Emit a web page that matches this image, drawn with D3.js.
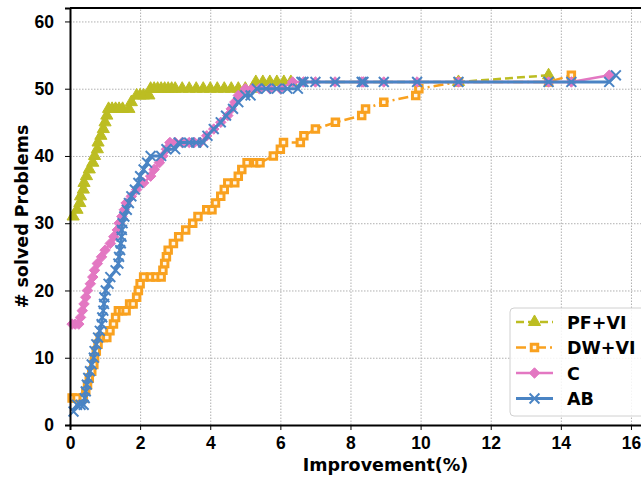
<!DOCTYPE html>
<html>
<head>
<meta charset="utf-8">
<style>
    body { margin: 0; background: #fff; }
    svg { display: block; font-family: 'DejaVu Sans', sans-serif; }
    .grid line { stroke: #b0b0b0; stroke-dasharray: 1.5,1.5; stroke-width: 1; }
    .grid .domain { display: none; }
    .axis text { font-size: 17.5px; font-weight: bold; fill: #000; }
    .axis line, .axis path { stroke: #000; }
    .label { font-size: 17.5px; font-weight: bold; }
    .legend text { font-size: 17.5px; font-weight: bold; }
</style>
</head>
<body>
<svg width="641" height="477"></svg>

<script src="https://d3js.org/d3.v7.min.js"></script>
<script>
    // series names and values: [improvement %, # solved]
    let seriesNames = ["PF+VI", "DW+VI", "C", "AB"];

    let pfvi = [[0.09,31],[0.2,32],[0.28,33],[0.3,34],[0.38,35],[0.4,36],[0.47,37],[0.55,38],[0.65,39],[0.7,40],
        [0.78,41],[0.8,42],[0.88,43],[0.95,44],[1.0,45],[1.05,46],[1.1,47],[1.2,47],[1.3,47],[1.4,47],[1.5,47],
        [1.68,47],[1.75,48],[1.9,49],[2.0,49],[2.1,49],[2.25,49],[2.3,50],[2.4,50],[2.5,50],[2.6,50],[2.7,50],
        [2.8,50],[2.9,50],[3.0,50],[3.2,50],[3.4,50],[3.6,50],[3.8,50],[4.0,50],[4.2,50],[4.4,50],[4.6,50],
        [4.8,50],[5.0,50],[5.2,50],[5.3,51],[5.5,51],[5.7,51],[5.9,51],[6.1,51],[6.3,51],[11.08,51],[13.65,52]];

    let dwvi = [[0.06,4],[0.2,4],[0.38,4],[0.45,5],[0.5,6],[0.55,7],[0.62,8],[0.68,9],[0.7,10],[0.75,11],
        [0.8,12],[0.86,13],[0.95,13],[1.05,13],[1.14,14],[1.24,15],[1.3,16],[1.38,17],[1.5,17],[1.6,17],
        [1.7,18],[1.8,18],[1.9,19],[1.95,20],[2.0,21],[2.1,22],[2.3,22],[2.45,22],[2.6,22],[2.65,23],[2.7,24],
        [2.75,25],[2.8,26],[2.95,27],[3.1,28],[3.3,29],[3.5,30],[3.65,31],[3.9,32],[4.05,32],[4.15,33],
        [4.3,34],[4.4,35],[4.5,36],[4.7,36],[4.8,37],[4.9,38],[5.05,39],[5.3,39],[5.42,39],[5.8,40],[6.0,41],
        [6.09,42],[6.57,42],[6.67,43],[7.0,44],[7.57,45],[8.32,46],[8.43,47],[8.95,48],[9.86,49],[9.95,50],
        [11.08,51],[13.65,51],[14.3,52]];

    let cc = [[0.06,15],[0.15,15],[0.25,15],[0.3,16],[0.35,17],[0.4,18],[0.45,19],[0.5,20],[0.58,21],[0.65,22],
        [0.7,23],[0.78,24],[0.9,25],[1.0,26],[1.15,27],[1.25,28],[1.35,29],[1.4,30],[1.48,31],[1.55,32],
        [1.6,33],[1.75,34],[1.9,35],[2.1,36],[2.3,37],[2.4,38],[2.55,39],[2.65,40],[2.75,41],[2.85,42],
        [3.0,42],[3.2,42],[3.4,42],[3.55,42],[3.71,42],[3.9,43],[4.1,44],[4.3,45],[4.5,46],[4.6,47],[4.7,48],
        [4.8,49],[5.0,50],[5.2,50],[5.4,50],[5.7,50],[6.0,50],[6.35,51],[6.66,51],[7.0,51],[7.56,51],
        [8.32,51],[8.37,51],[8.95,51],[9.9,51],[11.08,51],[13.65,51],[14.3,51],[15.38,52]];

    let ab = [[0.1,2],[0.2,3],[0.3,3],[0.39,3],[0.42,4],[0.45,5],[0.48,6],[0.52,7],[0.57,8],[0.62,9],
        [0.68,10],[0.7,11],[0.75,12],[0.8,13],[0.85,14],[0.9,15],[0.92,16],[0.95,17],[0.97,18],[0.98,19],
        [1.02,20],[1.1,21],[1.15,22],[1.3,23],[1.38,24],[1.4,25],[1.43,26],[1.45,27],[1.47,28],[1.48,29],
        [1.5,30],[1.55,31],[1.62,32],[1.68,33],[1.75,34],[1.85,35],[1.95,36],[2.0,37],[2.1,38],[2.2,39],
        [2.3,40],[2.6,40],[2.75,41],[3.0,41],[3.1,42],[3.4,42],[3.6,42],[3.8,42],[3.92,43],[4.1,44],[4.3,45],
        [4.45,46],[4.65,47],[4.8,48],[5.0,49],[5.15,49],[5.33,50],[5.6,50],[5.9,50],[6.2,50],[6.5,50],
        [6.6,51],[6.66,51],[7.0,51],[7.56,51],[8.32,51],[8.37,51],[8.95,51],[9.9,51],[11.08,51],[13.65,51],
        [14.3,51],[15.38,51],[15.57,52]];

    let xTicks = [0, 2, 4, 6, 8, 10, 12, 14, 16];
    let yTicks = [0, 10, 20, 30, 40, 50, 60];

    let svg = d3.select("svg");
    let margin = { top: 8, left: 70, bottom: 52 };
    let height = 477;

    // the axes run past the right edge of the picture (cropped figure)
    let xMax = 18;
    let xScale = d3.scaleLinear().domain([0, xMax]).range([margin.left, margin.left + xMax * 35.06]);
    let yScale = d3.scaleLinear().domain([0, 62]).range([height - margin.bottom, margin.top]);

    // grid
    svg.append("g").attr("class", "grid")
        .attr("transform", `translate(0,${yScale(0)})`)
        .call(d3.axisBottom(xScale).tickValues(xTicks).tickSize(-(yScale(0) - yScale(62))).tickFormat(""));
    svg.append("g").attr("class", "grid")
        .attr("transform", `translate(${margin.left},0)`)
        .call(d3.axisLeft(yScale).tickValues(yTicks).tickSize(-(xScale(xMax) - margin.left)).tickFormat(""));

    let styles = [
        { data: pfvi, color: "#bcbd22", dash: "8,4", sym: d3.symbolTriangle, size: 64, fill: "#bcbd22", w: 2.5, sw: 1 },
        { data: dwvi, color: "#f9a11f", dash: "10,4,2,4", sym: d3.symbolSquare, size: 42, fill: "#fff6e8", w: 2.5, sw: 3 },
        { data: cc, color: "#e377c2", dash: null, sym: d3.symbolDiamond2, size: 70, fill: "#e377c2", w: 2.5, sw: 1 },
        { data: ab, color: "#4a84c4", dash: null, sym: d3.symbolTimes, size: 65, fill: "none", w: 3, sw: 2 }
    ];

    let line = d3.line().x(d => xScale(d[0])).y(d => yScale(d[1]));

    styles.forEach(function (s) {
        let g = svg.append("g");
        g.append("path")
            .datum(s.data)
            .attr("d", line)
            .attr("fill", "none")
            .attr("stroke", s.color)
            .attr("stroke-width", s.w)
            .attr("stroke-dasharray", s.dash);
        g.selectAll(".pt")
            .data(s.data)
            .enter().append("path")
            .attr("transform", d => `translate(${xScale(d[0])},${yScale(d[1])})`)
            .attr("d", d3.symbol().type(s.sym).size(s.size))
            .attr("fill", s.fill)
            .attr("stroke", s.color)
            .attr("stroke-width", s.sw);
    });

    // axes
    let xAxis = svg.append("g").attr("class", "axis")
        .attr("transform", `translate(0,${yScale(0)})`)
        .call(d3.axisBottom(xScale).tickValues(xTicks).tickSize(5).tickPadding(7));
    xAxis.select(".domain").attr("stroke-width", 2);
    let yAxis = svg.append("g").attr("class", "axis")
        .attr("transform", `translate(${margin.left},0)`)
        .call(d3.axisLeft(yScale).tickValues(yTicks).tickSize(5).tickPadding(11));
    yAxis.select(".domain").attr("stroke-width", 2);
    svg.append("line")
        .attr("x1", margin.left).attr("x2", 641)
        .attr("y1", yScale(62)).attr("y2", yScale(62))
        .attr("stroke", "#000").attr("stroke-width", 2);

    svg.append("text").attr("class", "label")
        .attr("x", (xScale(0) + xScale(xMax)) / 2).attr("y", 471)
        .attr("text-anchor", "middle")
        .text("Improvement(%)");
    svg.append("text").attr("class", "label")
        .attr("transform", `translate(28,${(yScale(0) + yScale(62)) / 2}) rotate(-90)`)
        .attr("text-anchor", "middle")
        .text("# solved Problems");

    // legend
    let lg = svg.append("g").attr("class", "legend");
    lg.append("rect")
        .attr("x", 510).attr("y", 308).attr("width", 150).attr("height", 108)
        .attr("rx", 4)
        .attr("fill", "#fff").attr("fill-opacity", 0.85)
        .attr("stroke", "#d0d0d0");
    styles.forEach(function (s, i) {
        let y = 322 + i * 25.5;
        lg.append("line")
            .attr("x1", 516).attr("x2", 553).attr("y1", y).attr("y2", y)
            .attr("stroke", s.color).attr("stroke-width", s.w)
            .attr("stroke-dasharray", s.dash);
        lg.append("path")
            .attr("transform", `translate(534.5,${y})`)
            .attr("d", d3.symbol().type(s.sym).size(s.size))
            .attr("fill", s.fill)
            .attr("stroke", s.color)
            .attr("stroke-width", s.sw);
        lg.append("text")
            .attr("x", 567).attr("y", y + 6.5)
            .text(seriesNames[i]);
    });
</script>
</body>
</html>
